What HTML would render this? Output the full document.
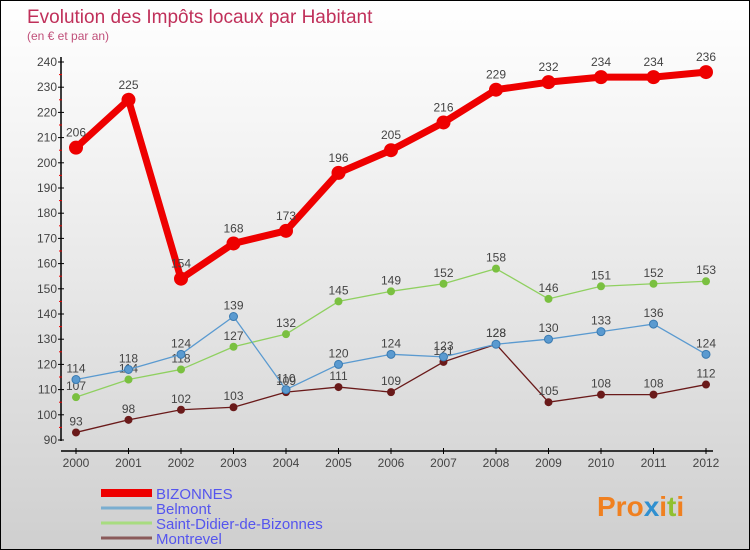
<!DOCTYPE html>
<html><head><meta charset="utf-8"><style>
body{margin:0}
#c{width:748px;height:548px;border:1px solid #000;background:linear-gradient(#fff,#f2f2f2 30%,#cfcfcf);position:relative;overflow:hidden;font-family:"Liberation Sans",sans-serif}
svg{position:absolute;left:0;top:0}
</style></head><body>
<div id="c">
<svg id="s" width="750" height="550">
<text x="26" y="22" font-size="19" fill="#c0305a">Evolution des Impôts locaux par Habitant</text>
<text x="26" y="39" font-size="12" fill="#c0507a">(en € et par an)</text>
<text x="596" y="515" font-size="28" font-weight="bold" fill="#f08020">Pro<tspan fill="#3090d0">x</tspan>i<tspan fill="#90c030">t</tspan>i</text>
</svg>
</div>
<script>
const years=["2000","2001","2002","2003","2004","2005","2006","2007","2008","2009","2010","2011","2012"];
const bizonnes=[206,225,154,168,173,196,205,216,229,232,234,234,236];
const belmont=[114,118,124,139,110,120,124,123,128,130,133,136,124];
const saintDidier=[107,114,118,127,132,145,149,152,158,146,151,152,153];
const montrevel=[93,98,102,103,109,111,109,121,128,105,108,108,112];
const yTicks=[90,100,110,120,130,140,150,160,170,180,190,200,210,220,230,240];
const names=["BIZONNES","Belmont","Saint-Didier-de-Bizonnes","Montrevel"];
const NS="http://www.w3.org/2000/svg",s=document.getElementById('s');
const X=i=>75+i*52.5, Y=v=>439-(v-90)*378/150;
function mk(t,a,p){const e=document.createElementNS(NS,t);for(const k in a)e.setAttribute(k,a[k]);(p||s).appendChild(e);return e;}
let e=mk('line',{x1:60,y1:56,x2:60,y2:440,stroke:'#000','stroke-width':1.5});


e=mk('line',{x1:60,y1:450,x2:712,y2:450,stroke:'#000','stroke-width':1.5});


yTicks.forEach((v,i)=>{
 mk('line',{x1:57,x2:63,y1:Y(v),y2:Y(v),stroke:'#000'});
 if(i<yTicks.length-1)mk('line',{x1:58,x2:61,y1:Y(v+5),y2:Y(v+5),stroke:'#e00'});
 const t=mk('text',{x:56,y:Y(v)+4,'text-anchor':'end','font-size':12,fill:'#444'});t.textContent=v;
 
 
});
years.forEach((y,i)=>{
 mk('line',{x1:X(i),x2:X(i),y1:447,y2:453,stroke:'#000'});
 const t=mk('text',{x:X(i),y:466,'text-anchor':'middle','font-size':12,fill:'#444'});t.textContent=y;
 
 
});
const series=[[montrevel,'#6a1a1a',1.3,4],[saintDidier,'#8fd060',1.3,4],[belmont,'#5a9ad0',1.3,4],[bizonnes,'#ee0000',7,7]];
const dots=['#6a1a1a','#7ac040','#5a9ad0','#ee0000'];
series.forEach(([d,c,w,r],k)=>{
 const g=mk('g',{});
 
 
 mk('polyline',{points:d.map((v,i)=>X(i)+','+Y(v)).join(' '),fill:'none',stroke:c,'stroke-width':w,'stroke-linejoin':'round'},g);
 d.forEach((v,i)=>{
  const p=mk('circle',{cx:X(i),cy:Y(v),r:r,fill:dots[k],stroke:k==2?'#3a7ab0':'none'},g);
  
  
  const t=mk('text',{x:X(i),y:Y(v)-(k==3?11:7),'text-anchor':'middle','font-size':12,fill:'#444'},g);t.textContent=v;
  
  
 });
});
const lc=['#ee0000','#7aaed0','#a8dc80','#8a5a5a'],lw=[8,3,3,3];
names.forEach((n,i)=>{
 const g=mk('g',{});
 
 
 mk('line',{x1:100,x2:151,y1:492+i*15,y2:492+i*15,stroke:lc[i],'stroke-width':lw[i]},g);
 const t=mk('text',{x:155,y:498+i*15,'font-size':15,fill:'#5555ee'},g);t.textContent=n;
});
</script>
</body></html>
